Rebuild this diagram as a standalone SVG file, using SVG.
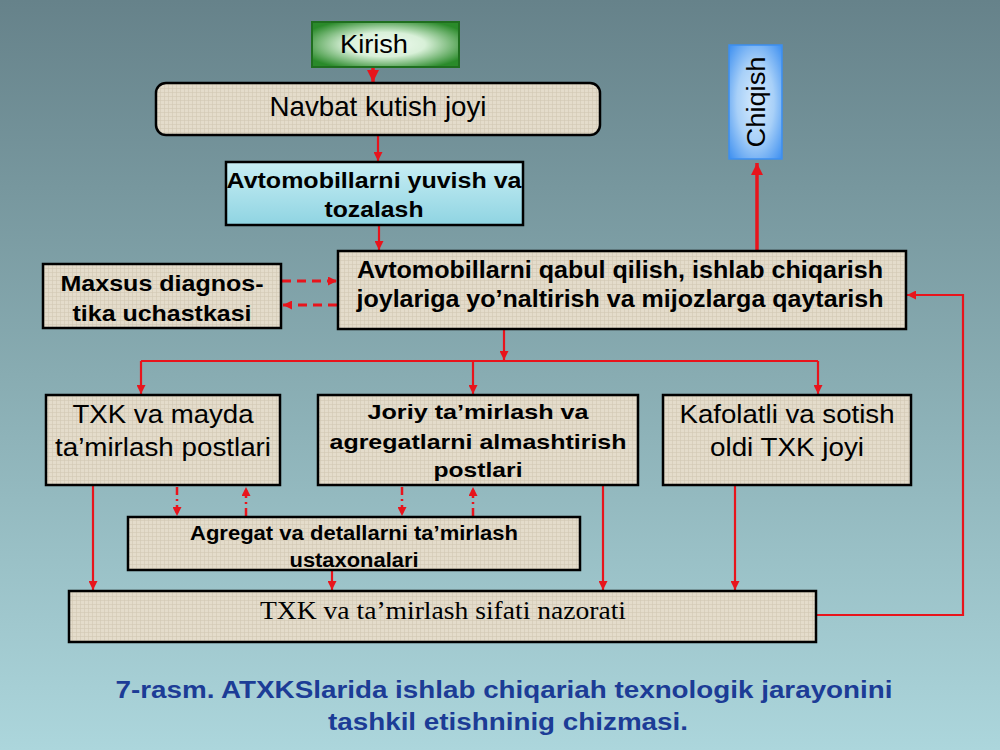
<svg xmlns="http://www.w3.org/2000/svg" width="1000" height="750" viewBox="0 0 1000 750">
<defs>
<linearGradient id="bg" x1="0" y1="0" x2="0" y2="1">
<stop offset="0" stop-color="#66828a"/>
<stop offset="0.5" stop-color="#88acb2"/>
<stop offset="1" stop-color="#acd6dc"/>
</linearGradient>
<radialGradient id="green" cx="0.5" cy="0.5" r="0.6">
<stop offset="0" stop-color="#f2fbf2"/>
<stop offset="0.45" stop-color="#d8f0d8"/>
<stop offset="1" stop-color="#2a8a2a"/>
</radialGradient>
<radialGradient id="blue" cx="0.5" cy="0.5" r="0.7">
<stop offset="0" stop-color="#d6ebfd"/>
<stop offset="0.5" stop-color="#a8d0f8"/>
<stop offset="1" stop-color="#3d8ff0"/>
</radialGradient>
<linearGradient id="water" x1="0" y1="0" x2="0" y2="1">
<stop offset="0" stop-color="#c8eef4"/>
<stop offset="1" stop-color="#8fd4e2"/>
</linearGradient>
<pattern id="linen" width="4" height="4" patternUnits="userSpaceOnUse">
<rect width="4" height="4" fill="#e4dccb"/>
<path d="M0 0.5H4M0.5 0V4" stroke="#d2c8b4" stroke-width="0.6"/>
</pattern>
<marker id="ah" viewBox="0 0 10 10" refX="10" refY="5" markerWidth="9" markerHeight="9" markerUnits="userSpaceOnUse" orient="auto-start-reverse">
<path d="M0 0L10 5L0 10z" fill="#e8141c"/>
</marker>
<marker id="ahb" viewBox="0 0 10 10" refX="10" refY="5" markerWidth="12" markerHeight="12" markerUnits="userSpaceOnUse" orient="auto-start-reverse">
<path d="M0 0L10 5L0 10z" fill="#e8141c"/>
</marker>
</defs>
<style>
.box{fill:url(#linen);stroke:#000;stroke-width:2.5}
.t{font-family:"Liberation Sans",Arial,sans-serif;fill:#000;text-anchor:middle}
.b{font-weight:bold}
.c{fill:none;stroke:#e8141c;stroke-width:2.2}
.thick{stroke-width:3.5}
.dash{stroke-dasharray:9 6;stroke-width:2.8}
.dd{stroke-dasharray:8 4 2 4;stroke-width:2.5}
.cap{fill:#1c3c96}
</style>
<rect width="1000" height="750" fill="url(#bg)"/>

<g id="connectors">
<path class="c thick" d="M373 56V82" marker-end="url(#ahb)"/>
<path class="c" d="M378 136V161" marker-end="url(#ah)"/>
<path class="c" d="M379 226V250" marker-end="url(#ah)"/>
<path class="c thick" d="M757 250V163" marker-end="url(#ahb)"/>
<path class="c dash" d="M282 281H337" marker-end="url(#ah)"/>
<path class="c dash" d="M337 305H283" marker-end="url(#ah)"/>
<path class="c" d="M504 330V360" marker-end="url(#ah)"/>
<path class="c" d="M141 361H818"/>
<path class="c" d="M141 361V394" marker-end="url(#ah)"/>
<path class="c" d="M473 361V394" marker-end="url(#ah)"/>
<path class="c" d="M818 361V394" marker-end="url(#ah)"/>
<path class="c" d="M93 486V590" marker-end="url(#ah)"/>
<path class="c" d="M603 486V590" marker-end="url(#ah)"/>
<path class="c" d="M735 486V590" marker-end="url(#ah)"/>
<path class="c" d="M332 571V590" marker-end="url(#ah)"/>
<path class="c dd" d="M177 487V516" marker-end="url(#ah)"/>
<path class="c dd" d="M246 516V487" marker-end="url(#ah)"/>
<path class="c dd" d="M402 487V516" marker-end="url(#ah)"/>
<path class="c dd" d="M473 516V487" marker-end="url(#ah)"/>
<path class="c" d="M817 615H963V295H907" marker-end="url(#ah)"/>
</g>

<g id="kirish">
<rect x="312" y="22" width="147" height="45" fill="url(#green)" stroke="#1f6e1f" stroke-width="2"/>
<text class="t" x="374" y="53" font-size="26" textLength="68" lengthAdjust="spacingAndGlyphs">Kirish</text>
</g>

<g id="navbat">
<rect class="box" x="156" y="83" width="444" height="52" rx="10"/>
<text class="t" x="378" y="116" font-size="28" textLength="217" lengthAdjust="spacingAndGlyphs">Navbat kutish joyi</text>
</g>

<g id="yuvish">
<rect x="226" y="162" width="297" height="63" fill="url(#water)" stroke="#000" stroke-width="2.5"/>
<text class="t b" x="374" y="188" font-size="22" textLength="295" lengthAdjust="spacingAndGlyphs">Avtomobillarni yuvish va</text>
<text class="t b" x="374" y="217" font-size="22" textLength="99" lengthAdjust="spacingAndGlyphs">tozalash</text>
</g>

<g id="qabul">
<rect class="box" x="338" y="251" width="568" height="78"/>
<text class="t b" x="620" y="278" font-size="23" textLength="526" lengthAdjust="spacingAndGlyphs">Avtomobillarni qabul qilish, ishlab chiqarish</text>
<text class="t b" x="620" y="307" font-size="23" textLength="527" lengthAdjust="spacingAndGlyphs">joylariga yo’naltirish va mijozlarga qaytarish</text>
</g>

<g id="maxsus">
<rect class="box" x="43" y="264" width="238" height="64"/>
<text class="t b" x="162" y="291" font-size="22" textLength="203" lengthAdjust="spacingAndGlyphs">Maxsus diagnos-</text>
<text class="t b" x="162" y="321" font-size="22" textLength="179" lengthAdjust="spacingAndGlyphs">tika uchastkasi</text>
</g>

<g id="chiqish">
<rect x="729" y="45" width="53" height="114" fill="url(#blue)" stroke="#3d8ff0" stroke-width="1.5"/>
<text class="t" transform="translate(765 102) rotate(-90)" font-size="26" textLength="91" lengthAdjust="spacingAndGlyphs">Chiqish</text>
</g>

<g id="txk">
<rect class="box" x="46" y="395" width="234" height="90"/>
<text class="t" x="163" y="423" font-size="26" textLength="181" lengthAdjust="spacingAndGlyphs">TXK va mayda</text>
<text class="t" x="163" y="456" font-size="26" textLength="216" lengthAdjust="spacingAndGlyphs">ta’mirlash postlari</text>
</g>

<g id="joriy">
<rect class="box" x="318" y="395" width="320" height="90"/>
<text class="t b" x="478" y="419" font-size="21" textLength="221" lengthAdjust="spacingAndGlyphs">Joriy ta’mirlash va</text>
<text class="t b" x="478" y="449" font-size="21" textLength="297" lengthAdjust="spacingAndGlyphs">agregatlarni almashtirish</text>
<text class="t b" x="478" y="477" font-size="21" textLength="89" lengthAdjust="spacingAndGlyphs">postlari</text>
</g>

<g id="kafolatli">
<rect class="box" x="663" y="395" width="248" height="90"/>
<text class="t" x="787" y="423" font-size="26" textLength="215" lengthAdjust="spacingAndGlyphs">Kafolatli va sotish</text>
<text class="t" x="787" y="456" font-size="26" textLength="154" lengthAdjust="spacingAndGlyphs">oldi TXK joyi</text>
</g>

<g id="agregat">
<rect class="box" x="128" y="517" width="452" height="53"/>
<text class="t b" x="354" y="540" font-size="20" textLength="328" lengthAdjust="spacingAndGlyphs">Agregat va detallarni ta’mirlash</text>
<text class="t b" x="354" y="567" font-size="20" textLength="129" lengthAdjust="spacingAndGlyphs">ustaxonalari</text>
</g>

<g id="nazorat">
<rect class="box" x="69" y="591" width="747" height="51"/>
<text x="443" y="619" font-size="26" text-anchor="middle" font-family="'Liberation Serif','Times New Roman',serif" fill="#000" textLength="366" lengthAdjust="spacingAndGlyphs">TXK va ta’mirlash sifati nazorati</text>
</g>

<g id="caption">
<text class="t b cap" x="504" y="698" font-size="23" textLength="777" lengthAdjust="spacingAndGlyphs">7-rasm. ATXKSlarida ishlab chiqariah texnologik jarayonini</text>
<text class="t b cap" x="508" y="730" font-size="23" textLength="360" lengthAdjust="spacingAndGlyphs">tashkil etishninig chizmasi.</text>
</g>
</svg>
